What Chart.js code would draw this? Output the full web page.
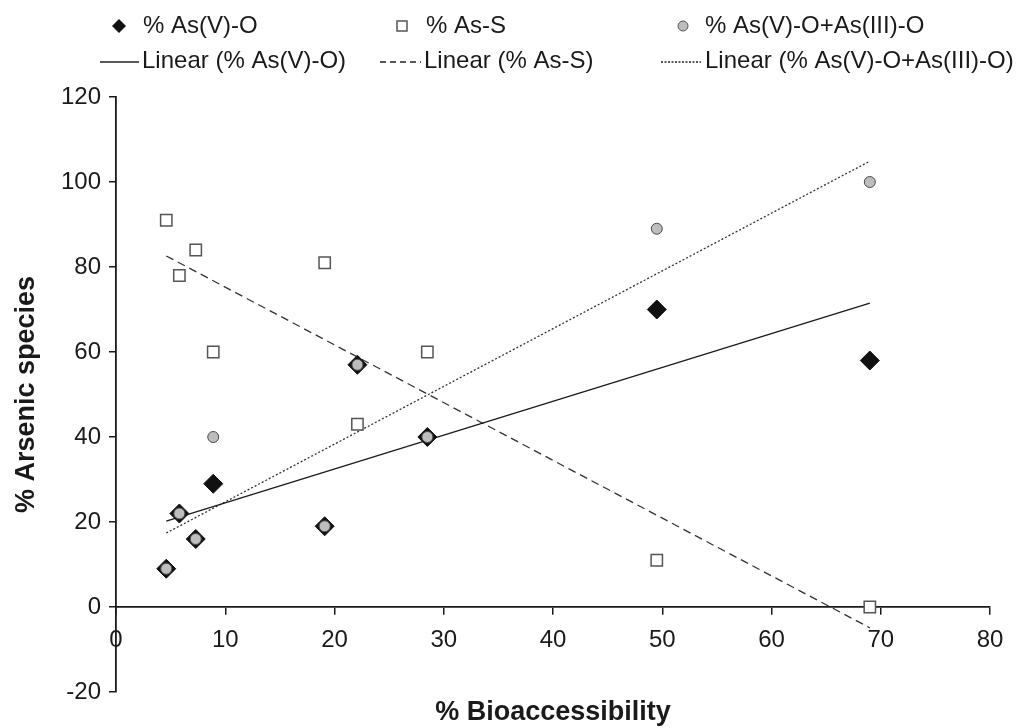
<!DOCTYPE html>
<html><head><meta charset="utf-8">
<script src="https://cdn.jsdelivr.net/npm/chart.js@4/dist/chart.umd.min.js"></script>
<style>html,body{margin:0;padding:0;background:#fff}#wrap{position:relative;width:1020px;height:728px}</style>
</head><body><div id="wrap"><canvas id="c" width="1020" height="728"></canvas></div>
<script>
// ---- data ----
const bioaccessibility = [4.6, 5.8, 7.3, 8.9, 19.1, 22.1, 28.5, 49.5, 69.0];
const asVO = [9, 22, 16, 29, 19, 57, 40, 70, 58];
const asS = [91, 78, 84, 60, 81, 43, 60, 11, 0];
const asVOplusIIIO = [9, 22, 16, 40, 19, 57, 40, 89, 100];
// linear trend line end points
const trendX = [4.6, 69.0];
const trendAsVO = [20.2, 71.5];
const trendAsS = [82.6, -4.9];
const trendSum = [17.4, 104.9];
const xTicks = [0, 10, 20, 30, 40, 50, 60, 70, 80];
const yTicks = [-20, 0, 20, 40, 60, 80, 100, 120];
const labels = ['% As(V)-O', '% As-S', '% As(V)-O+As(III)-O',
  'Linear (% As(V)-O)', 'Linear (% As-S)', 'Linear (% As(V)-O+As(III)-O)'];
const xTitle = '% Bioaccessibility';
const yTitle = '% Arsenic species';

const pts = (xs, ys) => xs.map((x, i) => ({x: x, y: ys[i]}));
const FONT = "'Liberation Sans', Arial, sans-serif";

const legendPlugin = {
  id: 'customLegend',
  afterDraw(chart) {
    const ctx = chart.ctx;
    ctx.save();
    ctx.font = '24px ' + FONT;
    ctx.fillStyle = '#1a1a1a';
    ctx.textBaseline = 'middle';
    ctx.textAlign = 'left';
    const r1 = 26, r2 = 61;
    // diamond
    ctx.beginPath();
    ctx.moveTo(119, r1 - 7); ctx.lineTo(126, r1); ctx.lineTo(119, r1 + 7); ctx.lineTo(112, r1); ctx.closePath();
    ctx.fillStyle = '#111'; ctx.fill();
    ctx.fillStyle = '#1a1a1a';
    ctx.fillText(labels[0], 143, r1);
    // square
    ctx.lineWidth = 1.5; ctx.strokeStyle = '#555'; ctx.fillStyle = '#fff';
    ctx.fillRect(397, r1 - 5, 10, 10); ctx.strokeRect(397, r1 - 5, 10, 10);
    ctx.fillStyle = '#1a1a1a';
    ctx.fillText(labels[1], 426, r1);
    // circle
    ctx.beginPath(); ctx.arc(683, r1, 5, 0, Math.PI * 2);
    ctx.fillStyle = '#bdbdbd'; ctx.fill(); ctx.lineWidth = 1; ctx.strokeStyle = '#555'; ctx.stroke();
    ctx.fillStyle = '#1a1a1a';
    ctx.fillText(labels[2], 705, r1);
    // lines
    ctx.strokeStyle = '#222'; ctx.lineWidth = 1.3;
    ctx.setLineDash([]);
    ctx.beginPath(); ctx.moveTo(100, r2 + 1); ctx.lineTo(139, r2 + 1); ctx.stroke();
    ctx.fillText(labels[3], 142, r2);
    ctx.setLineDash([6, 4]);
    ctx.beginPath(); ctx.moveTo(380, r2 + 1); ctx.lineTo(421, r2 + 1); ctx.stroke();
    ctx.fillText(labels[4], 424, r2);
    ctx.setLineDash([2, 1.5]);
    ctx.beginPath(); ctx.moveTo(661, r2 + 1); ctx.lineTo(701, r2 + 1); ctx.stroke();
    ctx.setLineDash([]);
    ctx.fillText(labels[5], 705, r2);
    // axis titles
    ctx.font = 'bold 27px ' + FONT;
    ctx.textAlign = 'center';
    const ca = chart.chartArea;
    ctx.fillText(xTitle, (ca.left + ca.right) / 2, 713);
    ctx.translate(27, (ca.top + ca.bottom) / 2);
    ctx.rotate(-Math.PI / 2);
    ctx.fillText(yTitle, 0, 0);
    ctx.restore();
  }
};

new Chart(document.getElementById('c'), {
  type: 'scatter',
  data: {
    datasets: [
      {label: labels[2], data: pts(bioaccessibility, asVOplusIIIO), pointStyle: 'circle', pointRadius: 5.5,
        backgroundColor: '#bdbdbd', borderColor: '#4a4a4a', borderWidth: 1, order: 0},
      {label: labels[1], data: pts(bioaccessibility, asS), pointStyle: 'rect', pointRadius: 8,
        backgroundColor: '#fff', borderColor: '#555', borderWidth: 1.5, order: 1},
      {label: labels[0], data: pts(bioaccessibility, asVO), pointStyle: 'rectRot', pointRadius: 9.5,
        backgroundColor: '#111', borderColor: '#111', borderWidth: 1, order: 2},
      {label: labels[3], type: 'line', data: pts(trendX, trendAsVO), showLine: true, pointRadius: 0,
        borderColor: '#1a1a1a', borderWidth: 1.3, fill: false, order: 3},
      {label: labels[4], type: 'line', data: pts(trendX, trendAsS), showLine: true, pointRadius: 0,
        borderColor: '#333', borderWidth: 1.3, borderDash: [8, 5], fill: false, order: 4},
      {label: labels[5], type: 'line', data: pts(trendX, trendSum), showLine: true, pointRadius: 0,
        borderColor: '#333', borderWidth: 1.3, borderDash: [2, 2], fill: false, order: 5}
    ]
  },
  options: {
    responsive: false, animation: false, devicePixelRatio: 1,
    layout: {padding: {top: 97, right: 30, bottom: 36, left: 0}},
    plugins: {legend: {display: false}, tooltip: {enabled: false}},
    scales: {
      x: {
        type: 'linear', min: 0, max: 80, position: {y: 0},
        afterBuildTicks: s => { s.ticks = xTicks.map(v => ({value: v})); },
        ticks: {font: {family: FONT, size: 24}, color: '#1a1a1a', padding: 12, maxRotation: 0},
        grid: {drawOnChartArea: false, drawTicks: true, tickLength: 7, color: '#1a1a1a', lineWidth: 1.5},
        border: {display: true, color: '#1a1a1a', width: 1.8}
      },
      y: {
        type: 'linear', min: -20, max: 120, position: 'left',
        afterBuildTicks: s => { s.ticks = yTicks.map(v => ({value: v})); },
        afterFit: s => { s.width = 116; },
        ticks: {font: {family: FONT, size: 24}, color: '#1a1a1a', padding: 8},
        grid: {drawOnChartArea: false, drawTicks: true, tickLength: 7, color: '#1a1a1a', lineWidth: 1.5},
        border: {display: true, color: '#1a1a1a', width: 1.8}
      }
    }
  },
  plugins: [legendPlugin]
});
</script></body></html>
